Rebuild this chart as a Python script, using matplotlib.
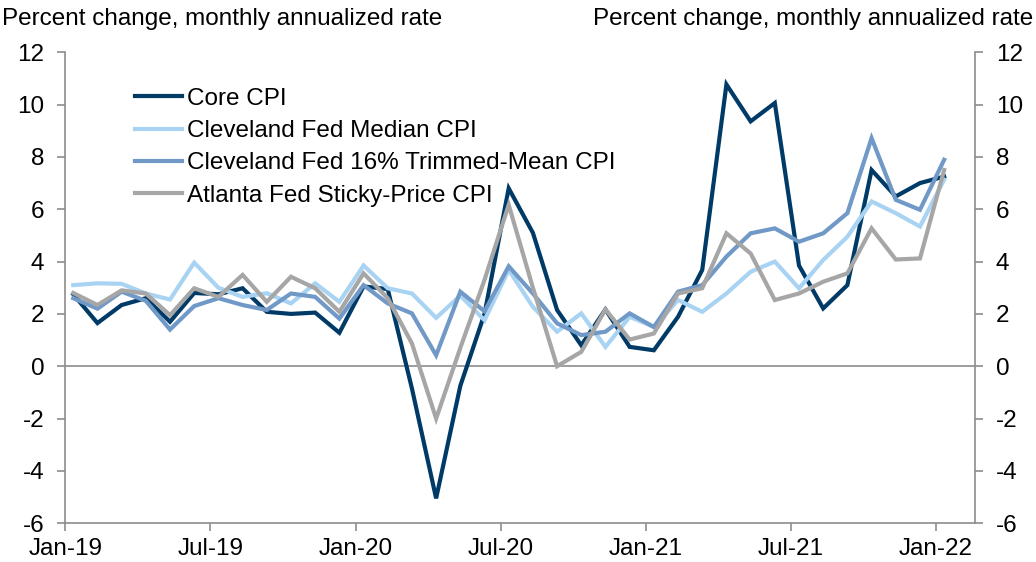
import numpy as np
import matplotlib
matplotlib.use("Agg")
import matplotlib.pyplot as plt

plt.rcParams['font.family'] = ['Liberation Sans', 'DejaVu Sans']
plt.rcParams['axes.unicode_minus'] = False

# monthly observations, Jan-19 .. Jan-22
core_cpi = [2.75, 1.65, 2.34, 2.6, 1.7, 2.8, 2.75, 2.98, 2.08, 2.0, 2.05, 1.28,
            3.05, 2.95, -0.85, -5.05, -0.75, 2.0, 6.8, 5.1, 2.15, 0.8, 2.17, 0.74,
            0.61, 1.89, 3.68, 10.77, 9.36, 10.06, 3.85, 2.21, 3.1, 7.5, 6.49, 7.0, 7.25]
median_cpi = [3.1, 3.17, 3.15, 2.78, 2.55, 3.96, 3.0, 2.65, 2.79, 2.4, 3.17, 2.46,
              3.85, 2.98, 2.78, 1.85, 2.7, 1.76, 3.68, 2.27, 1.32, 2.02, 0.74, 1.89,
              1.5, 2.53, 2.08, 2.78, 3.61, 4.0, 2.98, 4.06, 4.95, 6.3, 5.85, 5.34, 7.13]
trimmed_cpi = [2.6, 2.2, 2.85, 2.5, 1.4, 2.3, 2.6, 2.34, 2.15, 2.78, 2.65, 1.82,
               3.1, 2.4, 2.02, 0.42, 2.85, 2.1, 3.82, 2.78, 1.64, 1.19, 1.32, 2.02,
               1.5, 2.85, 3.1, 4.19, 5.08, 5.27, 4.76, 5.08, 5.85, 8.72, 6.36, 5.98, 7.89]
sticky_cpi = [2.8, 2.34, 2.9, 2.78, 1.95, 2.98, 2.65, 3.49, 2.46, 3.42, 2.98, 2.08,
              3.55, 2.6, 0.87, -2.0, 0.7, 3.3, 6.17, 3.0, 0.0, 0.55, 2.17, 1.02,
              1.25, 2.78, 2.98, 5.08, 4.31, 2.53, 2.78, 3.23, 3.55, 5.27, 4.08, 4.12, 7.5]

tick_labels = ['Jan-19', 'Jul-19', 'Jan-20', 'Jul-20', 'Jan-21', 'Jul-21', 'Jan-22']
series_names = ['Core CPI', 'Cleveland Fed Median CPI',
                'Cleveland Fed 16% Trimmed-Mean CPI', 'Atlanta Fed Sticky-Price CPI']
colors = ['#003a66', '#a9d3f2', '#7099c8', '#a6a6a6']

x = np.arange(len(core_cpi)) + 0.33
axis_grey = '#8c8c8c'
fs = 17.5

fig = plt.figure(figsize=(10.36, 5.62), dpi=100)
ax = fig.add_axes([0.063, 0.069, 0.878, 0.838])

for vals, name, c in zip([core_cpi, median_cpi, trimmed_cpi, sticky_cpi], series_names, colors):
    ax.plot(x, vals, color=c, lw=3.0, label=name, solid_joinstyle='miter')

ax.axhline(0, color=axis_grey, lw=1.2, zorder=0)

ax.set_xlim(0, 37.6)
ax.set_ylim(-6, 12)
ax.set_xticks(np.arange(0, 37, 6))
ax.set_xticklabels(tick_labels)
ax.set_yticks(np.arange(-6, 13, 2))

ax.spines['top'].set_visible(False)
for s in ['left', 'right', 'bottom']:
    ax.spines[s].set_color(axis_grey)
    ax.spines[s].set_linewidth(1.2)

ax.tick_params(axis='both', colors=axis_grey, labelcolor='black', labelsize=fs,
               length=6, width=1.2, direction='out')
ax.tick_params(axis='y', left=True, right=True, labelleft=True, labelright=True, pad=9)
ax.tick_params(axis='x', pad=5)

fig.text(0.002, 0.985, 'Percent change, monthly annualized rate', fontsize=fs,
         ha='left', va='top')
fig.text(0.997, 0.985, 'Percent change, monthly annualized rate', fontsize=fs,
         ha='right', va='top')

ax.legend(loc='upper left', bbox_to_anchor=(0.066, 0.945), frameon=False,
          fontsize=fs, handlelength=1.95, handletextpad=0.2, labelspacing=0.42,
          borderaxespad=0)

fig.savefig('out.png', dpi=100)
